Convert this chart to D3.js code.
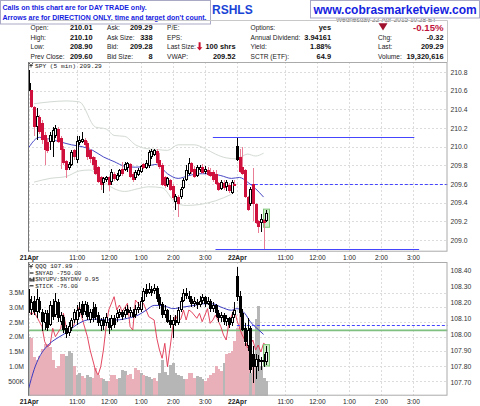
<!DOCTYPE html>
<html><head><meta charset="utf-8">
<script src="https://cdn.jsdelivr.net/npm/d3@7/dist/d3.min.js"></script>
<style>
html,body{margin:0;padding:0;background:#fff;}
svg{display:block;font-family:"Liberation Sans",Arial,sans-serif;}
</style></head><body>
<svg id="chart" width="480" height="406"></svg>
<script>
// ---------------- DATA ----------------
const notice = ["Calls on this chart are for DAY TRADE only.", "Arrows are for DIRECTION ONLY, time and target don't count."];
const siteUrl = "www.cobrasmarketview.com";
const titleTail = "RSHLS";
const dateStamp = "Wednesday 22-Apr-2015 10:28 ET";
const quoteLabels = [
  ["Open:", "High:", "Low:", "Prev Close:"],
  ["Ask:", "Ask Size:", "Bid:", "Bid Size:"],
  ["P/E:", "EPS:", "Last Size:", "VWAP:"],
  ["Options:", "Annual Dividend:", "Yield:", "SCTR (ETF):"],
  ["", "Chg:", "Last:", "Volume:"]
];
const quoteValues = [
  ["210.01", "210.10", "208.90", "209.60"],
  ["209.29", "338", "209.28", "8"],
  ["", "", "100 shrs", "209.52"],
  ["yes", "3.94161", "1.88%", "64.9"],
  ["-0.15%", "-0.32", "209.29", "19,320,616"]
];
const spyLabel = "SPY (5 min) 209.29";
const qqqLabel = "QQQ 107.89";
const indicatorLabels = ["$NYAD -750.00", "$NYUPV:$NYDNV 0.95", "$TICK -76.00"];

// x axis (5-minute bar index, 0 = 21 Apr 9:30)
const xTickBars = [0, 18, 30, 42, 54, 66, 78, 96, 108, 120, 132, 144];
const xTickLabels = ["21Apr", "11:00", "12:00", "1:00", "2:00", "3:00", "22Apr", "11:00", "12:00", "1:00", "2:00", "3:00"];
const spyTicks = [209.0, 209.2, 209.4, 209.6, 209.8, 210.0, 210.2, 210.4, 210.6, 210.8];
const qqqTicks = [107.7, 107.8, 107.9, 108.0, 108.1, 108.2, 108.3, 108.4];
const volTicks = [0.5, 1.0, 1.5, 2.0, 2.5, 3.0, 3.5];
const volTickLabels = ["500K", "1.0M", "1.5M", "2.0M", "2.5M", "3.0M", "3.5M"];

const spyPrevDayClose = 209.85;
const spyO = [
210.68,210.61,210.42,210.21,210.32,210.25,210.13,210.05,210.05,210.05,
210.11,210.19,210.09,209.98,209.85,209.77,209.80,209.96,209.86,210.04,
210.05,210.07,210.04,209.96,209.89,209.86,209.78,209.67,209.61,209.64,
209.67,209.62,209.71,209.64,209.69,209.76,209.75,209.77,209.81,209.71,
209.66,209.70,209.73,209.81,209.77,209.79,209.89,209.91,209.95,209.86,
209.80,209.67,209.59,209.64,209.58,209.41,209.46,209.46,209.56,209.64,
209.71,209.82,209.76,209.69,209.75,209.78,209.73,209.75,209.73,209.73,
209.71,209.61,209.55,209.61,209.57,209.59,209.50,209.59,
210.01,209.89,209.78,209.75,209.46,209.39,209.60,209.39,209.20,209.18,209.21,209.20];
const spyH = [
210.82,210.61,210.44,210.41,210.34,210.29,210.16,210.09,210.16,210.21,
210.23,210.21,210.11,210.01,209.86,209.84,209.96,209.98,210.11,210.11,
210.16,210.09,210.06,209.98,209.90,209.89,209.79,209.69,209.68,209.69,
209.69,209.76,209.73,209.72,209.76,209.84,209.84,209.84,209.82,209.73,
209.75,209.77,209.80,209.82,209.86,209.96,209.97,209.98,209.97,209.93,
209.82,209.69,209.67,209.65,209.60,209.49,209.48,209.57,209.66,209.80,
209.88,209.84,209.79,209.80,209.80,209.81,209.79,209.78,209.77,209.75,
209.75,209.62,209.64,209.64,209.64,209.61,209.64,209.64,
210.10,209.98,210.00,209.76,209.47,209.57,209.77,209.40,209.21,209.28,209.23,209.32];
const spyL = [
210.60,210.41,210.11,210.07,210.14,210.03,209.80,209.93,209.96,209.89,
210.09,210.04,209.76,209.80,209.66,209.75,209.79,209.86,209.83,210.02,
210.04,210.00,209.86,209.82,209.75,209.70,209.61,209.54,209.50,209.62,
209.53,209.59,209.63,209.63,209.67,209.69,209.74,209.73,209.66,209.62,
209.64,209.69,209.72,209.76,209.76,209.77,209.87,209.90,209.80,209.76,
209.58,209.56,209.57,209.52,209.43,209.32,209.25,209.44,209.55,209.63,
209.70,209.71,209.66,209.67,209.73,209.71,209.71,209.69,209.67,209.62,
209.59,209.52,209.54,209.54,209.52,209.50,209.49,209.58,
209.85,209.72,209.70,209.45,209.31,209.36,209.20,209.17,209.07,209.09,208.90,209.19];
const spyC = [
210.61,210.42,210.21,210.33,210.16,210.07,209.96,209.95,210.13,210.18,
210.20,210.05,209.96,209.83,209.75,209.81,209.94,209.89,210.06,210.07,
210.08,210.02,209.89,209.87,209.80,209.71,209.62,209.59,209.66,209.67,
209.59,209.73,209.65,209.70,209.75,209.71,209.81,209.82,209.68,209.64,
209.73,209.75,209.79,209.77,209.82,209.94,209.95,209.96,209.82,209.78,
209.59,209.58,209.66,209.54,209.45,209.47,209.39,209.55,209.64,209.75,
209.83,209.73,209.68,209.78,209.78,209.72,209.76,209.70,209.69,209.64,
209.60,209.54,209.62,209.56,209.62,209.52,209.62,209.60,
209.86,209.73,209.71,209.46,209.32,209.55,209.39,209.18,209.14,209.23,209.18,209.29];

const spyMaBars = [0,4,8,12,16,20,24,28,32,36,40,44,48,52,56,60,64,68,72,76,79,82,85,88];
const spyMa = [209.99,210.10,210.08,210.05,210.02,210.00,209.96,209.89,209.84,209.79,209.78,209.79,209.81,209.71,209.66,209.69,209.71,209.71,209.69,209.66,209.67,209.62,209.55,209.46];
const bandUpBars = [2,8,14,19,25,29,32,36,40,44,48,52,56,62,66,70,74,78,82,85,88];
const bandUp = [210.46,210.48,210.49,210.48,210.21,210.19,210.12,210.11,210.02,209.98,209.97,209.96,210.02,210.02,209.98,209.92,209.88,209.87,209.92,209.90,209.93];
const bandLoBars = [2,8,14,19,23,27,32,36,41,45,50,55,59,64,70,76];
const bandLo = [209.62,209.66,209.68,209.74,209.75,209.65,209.55,209.52,209.55,209.57,209.56,209.40,209.37,209.38,209.42,209.49];

// chartist's levels: [price, from bar, to bar]
const spyLevels = [[210.10, 69, 144.5], [208.90, 70, 146.3]];
const spyDashLevels = [[209.60, 81, 157]];
const qqqLevels = [[108.025, 0, 157]];
const qqqDashLevels = [[108.06, 78, 157]];

const qqqO = [
108.22,108.15,108.21,108.14,108.21,108.14,108.07,108.13,108.06,108.18,
108.12,108.20,108.08,108.11,108.04,108.01,108.04,108.09,108.09,108.13,
108.19,108.14,108.18,108.09,108.16,108.17,108.12,108.05,108.09,108.07,
108.08,108.05,108.10,108.10,108.12,108.14,108.12,108.16,108.13,108.14,
108.12,108.15,108.15,108.21,108.28,108.26,108.28,108.27,108.29,108.23,
108.19,108.12,108.15,108.09,108.06,108.09,108.07,108.15,108.21,108.26,
108.24,108.22,108.19,108.20,108.18,108.21,108.23,108.19,108.21,108.16,
108.18,108.13,108.10,108.12,108.08,108.10,108.07,108.12,
108.36,108.24,108.13,108.04,107.93,108.04,107.88,107.80,107.85,107.83,107.84,107.83];
const qqqH = [
108.28,108.24,108.24,108.28,108.23,108.16,108.15,108.15,108.21,108.22,
108.26,108.22,108.14,108.12,108.06,108.08,108.10,108.16,108.18,108.20,
108.21,108.21,108.20,108.16,108.20,108.19,108.14,108.10,108.11,108.13,
108.10,108.12,108.12,108.15,108.16,108.15,108.17,108.18,108.17,108.16,
108.18,108.20,108.23,108.29,108.31,108.32,108.30,108.31,108.30,108.25,
108.20,108.18,108.16,108.12,108.11,108.12,108.17,108.23,108.28,108.29,
108.27,108.24,108.23,108.22,108.24,108.25,108.24,108.23,108.22,108.20,
108.19,108.15,108.14,108.13,108.12,108.11,108.14,108.20,
108.42,108.27,108.16,108.07,108.10,108.05,107.93,107.88,107.87,107.86,107.88,107.93];
const qqqL = [
108.13,108.12,108.12,108.10,108.13,108.02,108.03,108.02,108.05,108.09,
108.11,108.08,108.06,108.01,107.98,107.99,108.02,108.07,108.06,108.11,
108.10,108.12,108.09,108.07,108.08,108.09,108.05,108.02,108.03,108.05,
108.00,108.03,108.04,108.08,108.10,108.09,108.10,108.12,108.11,108.10,
108.10,108.13,108.14,108.20,108.23,108.25,108.24,108.25,108.20,108.16,
108.10,108.10,108.07,108.04,107.98,108.05,108.06,108.14,108.20,108.22,
108.20,108.17,108.17,108.16,108.17,108.19,108.17,108.18,108.14,108.14,
108.11,108.08,108.08,108.06,108.05,108.04,108.05,108.10,
108.21,108.11,108.02,107.93,107.90,107.76,107.70,107.72,107.77,107.78,107.80,107.81];
const qqqC = [
108.15,108.20,108.14,108.22,108.15,108.08,108.13,108.04,108.18,108.11,
108.21,108.10,108.12,108.03,108.00,108.05,108.09,108.14,108.15,108.16,
108.12,108.19,108.11,108.14,108.10,108.11,108.07,108.09,108.05,108.11,
108.04,108.10,108.06,108.13,108.14,108.11,108.15,108.13,108.15,108.11,
108.16,108.17,108.21,108.27,108.25,108.28,108.26,108.29,108.22,108.18,
108.12,108.15,108.08,108.06,108.09,108.07,108.15,108.21,108.26,108.24,
108.22,108.19,108.21,108.18,108.21,108.23,108.19,108.21,108.16,108.18,
108.13,108.10,108.12,108.08,108.10,108.06,108.11,108.15,
108.23,108.13,108.03,107.95,108.03,107.78,107.80,107.85,107.83,107.84,107.83,107.89];
const qqqMaBars = [0,2,4,6,8,11,14,18,22,26,29,33,37,41,44,47,49,52,54,58,62,65,69,72,76,78,81,83,86,88];
const qqqMa = [107.665,107.78,107.86,107.91,107.945,107.98,108.01,108.06,108.09,108.095,108.09,108.09,108.10,108.12,108.15,108.18,108.18,108.17,108.16,108.17,108.18,108.19,108.19,108.17,108.15,108.16,108.13,108.08,108.03,108.00];

// volume in millions, and whether the bar was an up bar (grey) or down bar (pink)
const volume = [
2.0,1.95,1.3,1.2,1.35,1.6,1.75,1.75,1.65,1.2,
0.95,1.0,1.4,1.4,1.35,1.5,1.45,1.0,0.7,0.75,
0.65,0.6,0.7,0.62,0.6,0.95,0.7,0.58,0.55,0.5,
0.5,0.7,0.7,0.55,0.6,0.88,0.85,0.7,0.72,0.55,
0.95,0.88,0.78,0.7,0.65,0.62,0.55,0.6,0.5,0.75,
1.22,0.8,0.7,1.05,1.1,0.75,0.7,0.65,0.55,0.55,
0.75,0.78,0.6,0.68,0.62,0.55,0.5,0.6,0.7,0.75,
1.0,0.9,0.85,1.1,1.4,1.45,1.5,1.85,
2.3,2.8,2.35,1.8,1.8,0.77,1.2,2.6,3.05,0.99,0.6,0.5];
const volumeUp = [
1,0,0,0,0,0,0,0,0,0,
0,0,0,0,1,1,1,0,1,1,
0,0,1,1,0,0,0,0,1,1,
0,0,0,0,1,1,1,0,0,0,
0,0,1,0,1,1,1,0,0,1,
1,1,1,1,1,1,1,1,1,0,
0,0,0,1,1,1,0,0,0,0,
0,0,0,1,0,0,0,0,
0,0,0,0,0,1,0,1,1,1,1,1];

// $NYAD line
const nyadBars = [0,1,2,4,5,6,7,8,9,10,12,13,14,15,17,18,19,20,22,23,24,25,26,27,28,29,30,32,33,34,35,37,38,39,40,42,43,44,45,47,48,49,50,51,52,53,54,55,56,57,58,59,60,61,63,64,65,67,68,69,70,72,73,74,75,77,78,79,80,81,82,83,84,85,86,87,88,89];
const nyad = [125,0,82,-168,-292,-668,-792,-750,-332,-542,-332,42,-292,-375,-250,82,208,-82,-542,-875,-1125,-1375,-1500,-1292,-875,-292,125,458,125,250,82,292,-292,-375,375,208,292,125,-42,-125,-582,-875,-1082,-708,-1292,-800,-292,0,-168,-100,125,-125,125,80,-82,42,-168,158,-208,-125,0,-292,-500,-625,-208,158,-125,-325,-500,-625,-825,-750,-625,-875,-750,-925,-708,-750];

// ---------------- DRAWING ----------------
const FONT = '"Liberation Sans",Arial,sans-serif';
const MONO = '"Liberation Mono","DejaVu Sans Mono",monospace';
const svg = d3.select("#chart");
const P1 = {l: 28, t: 62, r: 447.5, b: 251.7};
const P2 = {l: 28, t: 262, r: 447.5, b: 395.7};
const LEVEL_BLUE = "#4545ff";

const x = d3.scaleLinear().domain([0, 157]).range([28.7, 447.7]);
const yS = d3.scaleLinear().domain([209.0, 210.8]).range([240, 72]);
const yQ = d3.scaleLinear().domain([107.7, 108.4]).range([382.7, 270]);
const yV = d3.scaleLinear().domain([0, 3.5]).range([395.5, 292.7]);
const yN = d3.scaleLinear().domain([-2025, 1300]).range([396, 263]);

const defs = svg.append("defs");
[["c1", P1], ["c2", P2]].forEach(([id, p]) => {
  defs.append("clipPath").attr("id", id).append("rect")
    .attr("x", p.l).attr("y", p.t).attr("width", p.r - p.l).attr("height", p.b - p.t);
});
defs.append("clipPath").attr("id", "stampClip").append("rect")
  .attr("x", 320).attr("y", 18.2).attr("width", 160).attr("height", 4);

// ----- header -----
svg.append("text").attr("x", 336).attr("y", 21.5).attr("font-size", 6.5).attr("fill", "#666")
  .attr("clip-path", "url(#stampClip)").text(dateStamp);
svg.append("text").attr("x", 212).attr("y", 13.5).attr("font-size", 12).attr("font-weight", "bold")
  .attr("fill", "#1a44d6").text(titleTail);
svg.append("rect").attr("x", 0.5).attr("y", 0.5).attr("width", 210).attr("height", 23.5)
  .attr("fill", "#fff").attr("stroke", "#a9a9c6");
notice.forEach((t, i) => {
  svg.append("text").attr("x", 2.5).attr("y", 9.8 + i * 10).attr("font-size", 7).attr("font-weight", "bold")
    .attr("fill", "#1522e0").text(t);
});
svg.append("rect").attr("x", 310.5).attr("y", 0.5).attr("width", 169).attr("height", 17.5)
  .attr("fill", "#fff").attr("stroke", "#a9a9c6");
svg.append("text").attr("x", 313.5).attr("y", 13.5).attr("font-size", 12).attr("font-weight", "bold")
  .attr("fill", "#1522e0").text(siteUrl);

// quote table
svg.append("path").attr("d", `M${P1.l},20.5H${P1.r}V${P1.t}`).attr("fill", "none").attr("stroke", "#c8c8c8");
const labelX = [30.5, 107, 167, 250.5, 378];
const valueX = [92.5, 152.5, 235.5, 331, 443.5];
const rowY = [30, 39.5, 49, 58.5];
quoteLabels.forEach((col, c) => {
  col.forEach((lab, r) => {
    svg.append("text").attr("x", labelX[c]).attr("y", rowY[r]).attr("font-size", 6.6)
      .attr("fill", "#222").text(lab);
    const v = quoteValues[c][r];
    const big = (c === 4 && r === 0);
    svg.append("text").attr("x", valueX[c]).attr("y", rowY[r] + (big ? 0.5 : 0)).attr("text-anchor", "end")
      .attr("font-size", big ? 9.6 : 7.4).attr("font-weight", "bold")
      .attr("fill", big ? "#c0143c" : "#111").text(v);
  });
});
svg.append("path").attr("d", "M378.5,23.2L387.5,23.2L383,30.5Z").attr("fill", "#a0112e");
svg.append("path").attr("d", "M198.6,42.3V47.2H196.8L199.6,50.6L202.4,47.2H200.6V42.3Z").attr("fill", "#c8102e");

// ----- generic helpers -----
function gridAndFrame(p, yScale, yTicks) {
  const g = svg.append("g");
  g.append("rect").attr("x", p.l).attr("y", p.t).attr("width", p.r - p.l).attr("height", p.b - p.t)
    .attr("fill", "#fff");
  yTicks.forEach(t => {
    const yy = Math.round(yScale(t)) + 0.5;
    g.append("line").attr("x1", p.l).attr("x2", p.r).attr("y1", yy).attr("y2", yy)
      .attr("stroke", "#dcdcdc").attr("stroke-dasharray", "2,2");
  });
  xTickBars.forEach(b => {
    const xx = Math.round(x(b)) + 0.5;
    if (xx <= p.l + 1) return;
    g.append("line").attr("x1", xx).attr("x2", xx).attr("y1", p.t).attr("y2", p.b)
      .attr("stroke", "#dcdcdc").attr("stroke-dasharray", "2,2");
  });
  return g;
}
function frame(p) {
  svg.append("rect").attr("x", p.l + 0.5).attr("y", p.t + 0.5).attr("width", p.r - p.l - 1).attr("height", p.b - p.t - 1)
    .attr("fill", "none").attr("stroke", "#aaa");
  svg.append("line").attr("x1", p.l + 0.5).attr("x2", p.l + 0.5).attr("y1", p.t).attr("y2", p.b).attr("stroke", "#777");
}
function candles(clip, O, H, L, C, yScale, colorOf, wickOf) {
  const g = svg.append("g").attr("clip-path", `url(#${clip})`).attr("shape-rendering", "crispEdges");
  O.forEach((o, i) => {
    const cx = Math.round(x(i));
    const c = C[i];
    const col = colorOf(i);
    g.append("line").attr("x1", cx + 0.5).attr("x2", cx + 0.5)
      .attr("y1", yScale(H[i])).attr("y2", yScale(L[i])).attr("stroke", wickOf(i));
    const top = Math.round(yScale(Math.max(o, c))), bot = Math.round(yScale(Math.min(o, c)));
    const h = Math.max(bot - top, 1);
    if (c > o) {
      g.append("rect").attr("x", cx - 0.5).attr("y", top + 0.5).attr("width", 2).attr("height", Math.max(h - 1, 0.5))
        .attr("fill", "#fff").attr("stroke", col);
    } else {
      g.append("rect").attr("x", cx - 1).attr("y", top).attr("width", 3).attr("height", h).attr("fill", col);
    }
  });
}
function levelLines(clip, levels, yScale, dashed) {
  const g = svg.append("g").attr("clip-path", `url(#${clip})`);
  levels.forEach(([v, a, b]) => {
    const yy = Math.round(yScale(v)) + 0.5;
    const ln = g.append("line").attr("x1", x(a)).attr("x2", x(b)).attr("y1", yy).attr("y2", yy)
      .style("stroke", LEVEL_BLUE).style("stroke-width", "1px");
    if (dashed) ln.style("stroke-dasharray", "3,2");
  });
}
function xAxis(p) {
  const ax = d3.axisBottom(x).tickValues(xTickBars).tickFormat((d, i) => xTickLabels[i]).tickSize(0).tickPadding(3.6);
  const g = svg.append("g").attr("transform", `translate(0,${p.b})`).call(ax);
  g.select(".domain").remove();
  g.selectAll("text").attr("font-size", 6.6).attr("font-family", FONT).attr("fill", "#222")
    .attr("font-weight", (d, i) => xTickLabels[i].indexOf("Apr") >= 0 ? "bold" : null);
}
function icon(xx, yy) {
  svg.append("path").attr("d", `M${xx},${yy - 4}L${xx + 2},${yy - 1.5}L${xx + 4},${yy - 4}M${xx + 2},${yy - 1.5}V${yy + 0.5}M${xx + 0.3},${yy - 1.5}H${xx + 3.7}`)
    .attr("stroke", "#333").attr("stroke-width", 0.9).attr("fill", "none");
}

// ----- top panel -----
gridAndFrame(P1, yS, spyTicks);
const bandLine = d3.line().x(d => x(d[0])).y(d => yS(d[1])).curve(d3.curveMonotoneX);
const gb = svg.append("g").attr("clip-path", "url(#c1)");
gb.append("path").attr("d", bandLine(d3.zip(bandUpBars, bandUp))).attr("fill", "none").attr("stroke", "#d3dad3");
gb.append("path").attr("d", bandLine(d3.zip(bandLoBars, bandLo))).attr("fill", "none").attr("stroke", "#d3dad3");
levelLines("c1", spyDashLevels, yS, true);
gb.append("path").attr("d", bandLine(d3.zip(spyMaBars, spyMa))).attr("fill", "none").attr("stroke", "#4747c4").attr("stroke-width", 1);
const lastI = spyC.length - 1;
svg.append("rect").attr("x", Math.round(x(lastI)) - 2.5).attr("y", yS(spyH[lastI]) - 1)
  .attr("width", 6).attr("height", yS(spyL[lastI]) - yS(spyH[lastI]) + 6)
  .attr("fill", "#cdeec8").attr("stroke", "#7cc474");
const spyPrev = i => i === 0 ? spyPrevDayClose : spyC[i - 1];
candles("c1", spyO, spyH, spyL, spyC, yS,
  i => spyC[i] >= spyPrev(i) ? "#000" : "#cf0f3c",
  i => spyC[i] >= spyPrev(i) ? "#000" : "#e87d95");
levelLines("c1", spyLevels, yS, false);
frame(P1);
icon(29, 67);
svg.append("text").attr("x", 35).attr("y", 67.5).attr("font-size", 6.2).attr("font-family", MONO).attr("fill", "#222").text(spyLabel);
const ra1 = svg.append("g").attr("transform", `translate(${P1.r},0)`)
  .call(d3.axisRight(yS).tickValues(spyTicks).tickFormat(d3.format(".1f")).tickSize(0).tickPadding(3));
ra1.select(".domain").remove();
ra1.selectAll("text").attr("font-size", 6.8).attr("font-family", FONT).attr("fill", "#333");
xAxis(P1);

// ----- bottom panel -----
gridAndFrame(P2, yV, volTicks);
const gv = svg.append("g").attr("clip-path", "url(#c2)").attr("shape-rendering", "crispEdges");
volume.forEach((v, i) => {
  const cx = Math.round(x(i));
  gv.append("rect").attr("x", cx - 1).attr("y", yV(v)).attr("width", 2.6).attr("height", yV(0) - yV(v))
    .attr("fill", volumeUp[i] ? "#b6b6b6" : "#eab0b9");
});
const g2 = svg.append("g").attr("clip-path", "url(#c2)");
qqqLevels.forEach(([v, a, b]) => {
  g2.append("line").attr("x1", x(a) - 2).attr("x2", x(b)).attr("y1", yQ(v)).attr("y2", yQ(v))
    .attr("stroke", "#7fbf7f").attr("stroke-width", 1.6);
});
levelLines("c2", qqqDashLevels, yQ, true);
const nyLine = d3.line().x(d => x(d[0])).y(d => yN(d[1]));
g2.append("path").attr("d", nyLine(d3.zip(nyadBars, nyad))).attr("fill", "none").attr("stroke", "#e0334f").attr("stroke-width", 0.9);
const qLine = d3.line().x(d => x(d[0])).y(d => yQ(d[1])).curve(d3.curveMonotoneX);
g2.append("path").attr("d", qLine(d3.zip(qqqMaBars, qqqMa))).attr("fill", "none").attr("stroke", "#3b3bc0").attr("stroke-width", 1);
svg.append("rect").attr("x", Math.round(x(lastI)) - 2.5).attr("y", yQ(qqqH[lastI]) - 1)
  .attr("width", 6).attr("height", yQ(qqqL[lastI]) - yQ(qqqH[lastI]) + 2)
  .attr("fill", "#cdeec8").attr("stroke", "#7cc474");
candles("c2", qqqO, qqqH, qqqL, qqqC, yQ, () => "#000", () => "#000");
frame(P2);
icon(29, 268);
svg.append("text").attr("x", 35.3).attr("y", 268.3).attr("font-size", 6.2).attr("font-family", MONO).attr("fill", "#222").text(qqqLabel);
indicatorLabels.forEach((t, i) => {
  const yy = 275 + i * 6.4;
  if (i === 1) {
    svg.append("path").attr("d", `M29.5,${yy}v-3.5h1.2v3.5M31.3,${yy}v-2.5h1.2v2.5M33.1,${yy}v-4h1.2v4`).attr("fill", "#333").attr("stroke", "#333").attr("stroke-width", 0.4);
  } else {
    svg.append("line").attr("x1", 29.5).attr("x2", 33.5).attr("y1", yy - 2).attr("y2", yy - 2).attr("stroke", "#222").attr("stroke-width", 1.2);
  }
  svg.append("text").attr("x", 35.3).attr("y", yy).attr("font-size", 5.9).attr("font-family", MONO).attr("fill", "#222").text(t);
});
const ra2 = svg.append("g").attr("transform", `translate(${P2.r},0)`)
  .call(d3.axisRight(yQ).tickValues(qqqTicks).tickFormat(d3.format(".2f")).tickSize(0).tickPadding(3));
ra2.select(".domain").remove();
ra2.selectAll("text").attr("font-size", 6.8).attr("font-family", FONT).attr("fill", "#333");
const la2 = svg.append("g").attr("transform", `translate(${P2.l},0)`)
  .call(d3.axisLeft(yV).tickValues(volTicks).tickFormat((d, i) => volTickLabels[i]).tickSize(0).tickPadding(4));
la2.select(".domain").remove();
la2.selectAll("text").attr("font-size", 6.8).attr("font-family", FONT).attr("fill", "#333");
xAxis(P2);
</script>
</body></html>
